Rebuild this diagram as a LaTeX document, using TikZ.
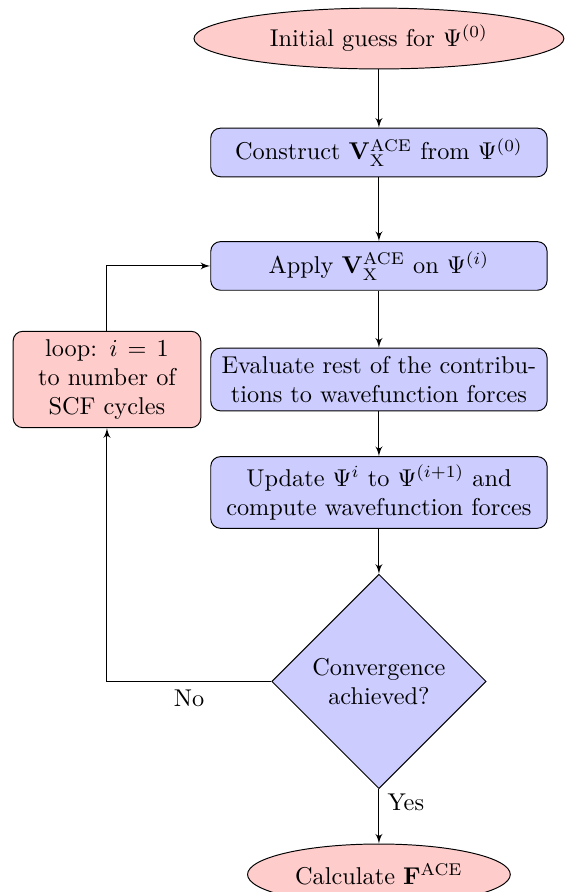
\documentclass[tikz,border=0pt]{standalone}
\usepackage{amsmath, amssymb}
\usetikzlibrary{shapes.geometric, arrows}

\begin{document}
\begin{tikzpicture}[
    block/.style={rectangle, draw, fill=blue!20, rounded corners, text width=4.63cm, align=center, minimum height=2em},
    loopbox/.style={rectangle, draw, fill=red!20, rounded corners, text width=2.48cm, align=center},
    terminal/.style={ellipse, draw, fill=red!20, minimum height=0.88cm},
    decision/.style={diamond, draw, fill=blue!20, aspect=1, text width=6em, align=center, inner sep=0pt, minimum size=3.1cm},
    arrowline/.style={draw, -latex'}]
    \useasboundingbox (-5.48,0) rectangle (2.70,-12.90);
    \node[terminal, minimum width=5.35cm] (init) at (0,-0.557) {Initial guess for $\Psi^{(0)}$};
    \node[block] (construct) at (0,-2.205) {Construct $\mathbf{V}_{\mathrm{X}}^{\mathrm{ACE}}$ from $\Psi^{(0)}$};
    \node[block] (apply) at (0,-3.846) {Apply $\mathbf{V}_{\mathrm{X}}^{\mathrm{ACE}}$ on $\Psi^{(i)}$};
    \node[block] (evaluate) at (0,-5.488) {Evaluate rest of the contributions to wavefunction forces};
    \node[block] (update) at (0,-7.122) {Update $\Psi^{i}$ to $\Psi^{(i+1)}$ and compute wavefunction forces};
    \node[decision] (decide) at (0,-9.855) {Convergence achieved?};
    \node[terminal, minimum width=3.8cm] (forces) at (0,-12.646) {Calculate $\mathbf{F}^{\mathrm{ACE}}$};
    \node[loopbox] (loop) at (-3.933,-5.488) {loop: $i=1$\\ to number of\\ SCF cycles};
    \path[arrowline] (init) -- (construct);
    \path[arrowline] (construct) -- (apply);
    \path[arrowline] (apply) -- (evaluate);
    \path[arrowline] (evaluate) -- (update);
    \path[arrowline] (update) -- (decide);
    \path[arrowline] (decide) -| node[below, near start] {No} (loop);
    \path[arrowline] (loop) |- (apply);
    \path[arrowline] (decide) -- node[right, near start] {Yes} (forces);
\end{tikzpicture}
\end{document}
